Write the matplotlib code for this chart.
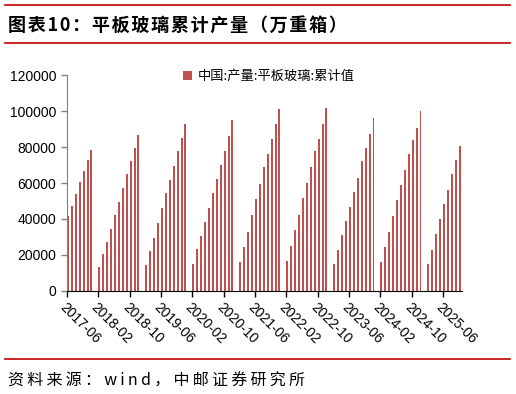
import numpy as np
import pandas as pd
import matplotlib
matplotlib.use("Agg")
from matplotlib import pyplot as plt
from matplotlib.lines import Line2D

plt.rcParams['font.family'] = ['Liberation Sans', 'Noto Sans CJK SC', 'DejaVu Sans']

# 中国:产量:平板玻璃:累计值 (万重箱), Feb = Jan-Feb combined, no January release
v2017 = [41400, 47350, 54050, 60700, 66650, 72600, 78550]  # Jun-Dec
v2018 = [13000, 20250, 26900, 34200, 42150, 49400, 57000, 65000, 72200, 79500, 86700]
v2019 = [14300, 22300, 29500, 37500, 46200, 54200, 61650, 69450, 77600, 84900, 92850]
v2020 = [14850, 23000, 30450, 38050, 46250, 54200, 62200, 70200, 77600, 86150, 94900]
v2021 = [15950, 24300, 32850, 42150, 50900, 59400, 68900, 76150, 84300, 92850, 101400]
v2022 = [16350, 24900, 33800, 42150, 51800, 60150, 68900, 77600, 84650, 93000, 101550]
v2023 = [14650, 22850, 30800, 38600, 46600, 54800, 62750, 72050, 79300, 87450, 96400]
v2024 = [16150, 24150, 32700, 41600, 50700, 58700, 67400, 75950, 84100, 90800, 100100]
v2025 = [14650, 22850, 31550, 40100, 48100, 56100, 64800, 72800, 80800]  # Feb-Oct

title = '图表10：平板玻璃累计产量（万重箱）'
source = '资料来源：wind，中邮证券研究所'

months = pd.period_range('2017-06', '2025-10', freq='M')
vals = list(v2017)
for v in [v2018, v2019, v2020, v2021, v2022, v2023, v2024, v2025]:
    vals.append(np.nan)  # January: no data
    vals.extend(v)
vals = np.array(vals, dtype=float)
x = np.arange(len(months))

fig = plt.figure(figsize=(5.16, 3.94), dpi=100)
ax = fig.add_axes([0.129, 0.262, 0.766, 0.547])

ax.bar(x, vals, width=0.5, align='edge', color='#C0504D',
       label='中国:产量:平板玻璃:累计值')

ax.set_xlim(-0.1, len(months) - 0.2)
ax.set_ylim(0, 120000)
ax.set_yticks(np.arange(0, 120001, 20000))
tick_idx = x[::8]
ax.set_xticks(tick_idx)
ax.set_xticklabels([months[i].strftime('%Y-%m') for i in tick_idx],
                   rotation=-45, ha='left', va='top', rotation_mode='anchor')
ax.tick_params(axis='x', length=4, width=1, labelsize=10, pad=3)
ax.tick_params(axis='y', length=4, width=1, color='#808080', labelsize=10)

for s in ['top', 'right']:
    ax.spines[s].set_visible(False)
ax.spines['left'].set_color('#808080')
ax.spines['bottom'].set_color('black')

ax.legend(loc='upper left', bbox_to_anchor=(0.265, 1.08), frameon=False,
          handlelength=0.7, handleheight=0.7, handletextpad=0.4,
          prop={'family': ['Noto Sans CJK SC'], 'size': 9.5})

# header / footer, a little letter spacing like the original
fig.text(0.016, 1 - 25 / 394, '\u200a'.join(title), fontsize=13,
         fontweight='bold', va='center', family=['Noto Sans CJK SC', 'DejaVu Sans'])
fig.text(0.016, 1 - 381 / 394, '\u2009'.join(source), fontsize=11.5,
         va='center', family=['Noto Sans CJK SC', 'DejaVu Sans'])
for yy in [5, 43, 359]:
    fig.add_artist(Line2D([5 / 516, 510 / 516], [1 - yy / 394] * 2,
                          color='#C00000', lw=1.2))

fig.savefig('out.png', dpi=100)
